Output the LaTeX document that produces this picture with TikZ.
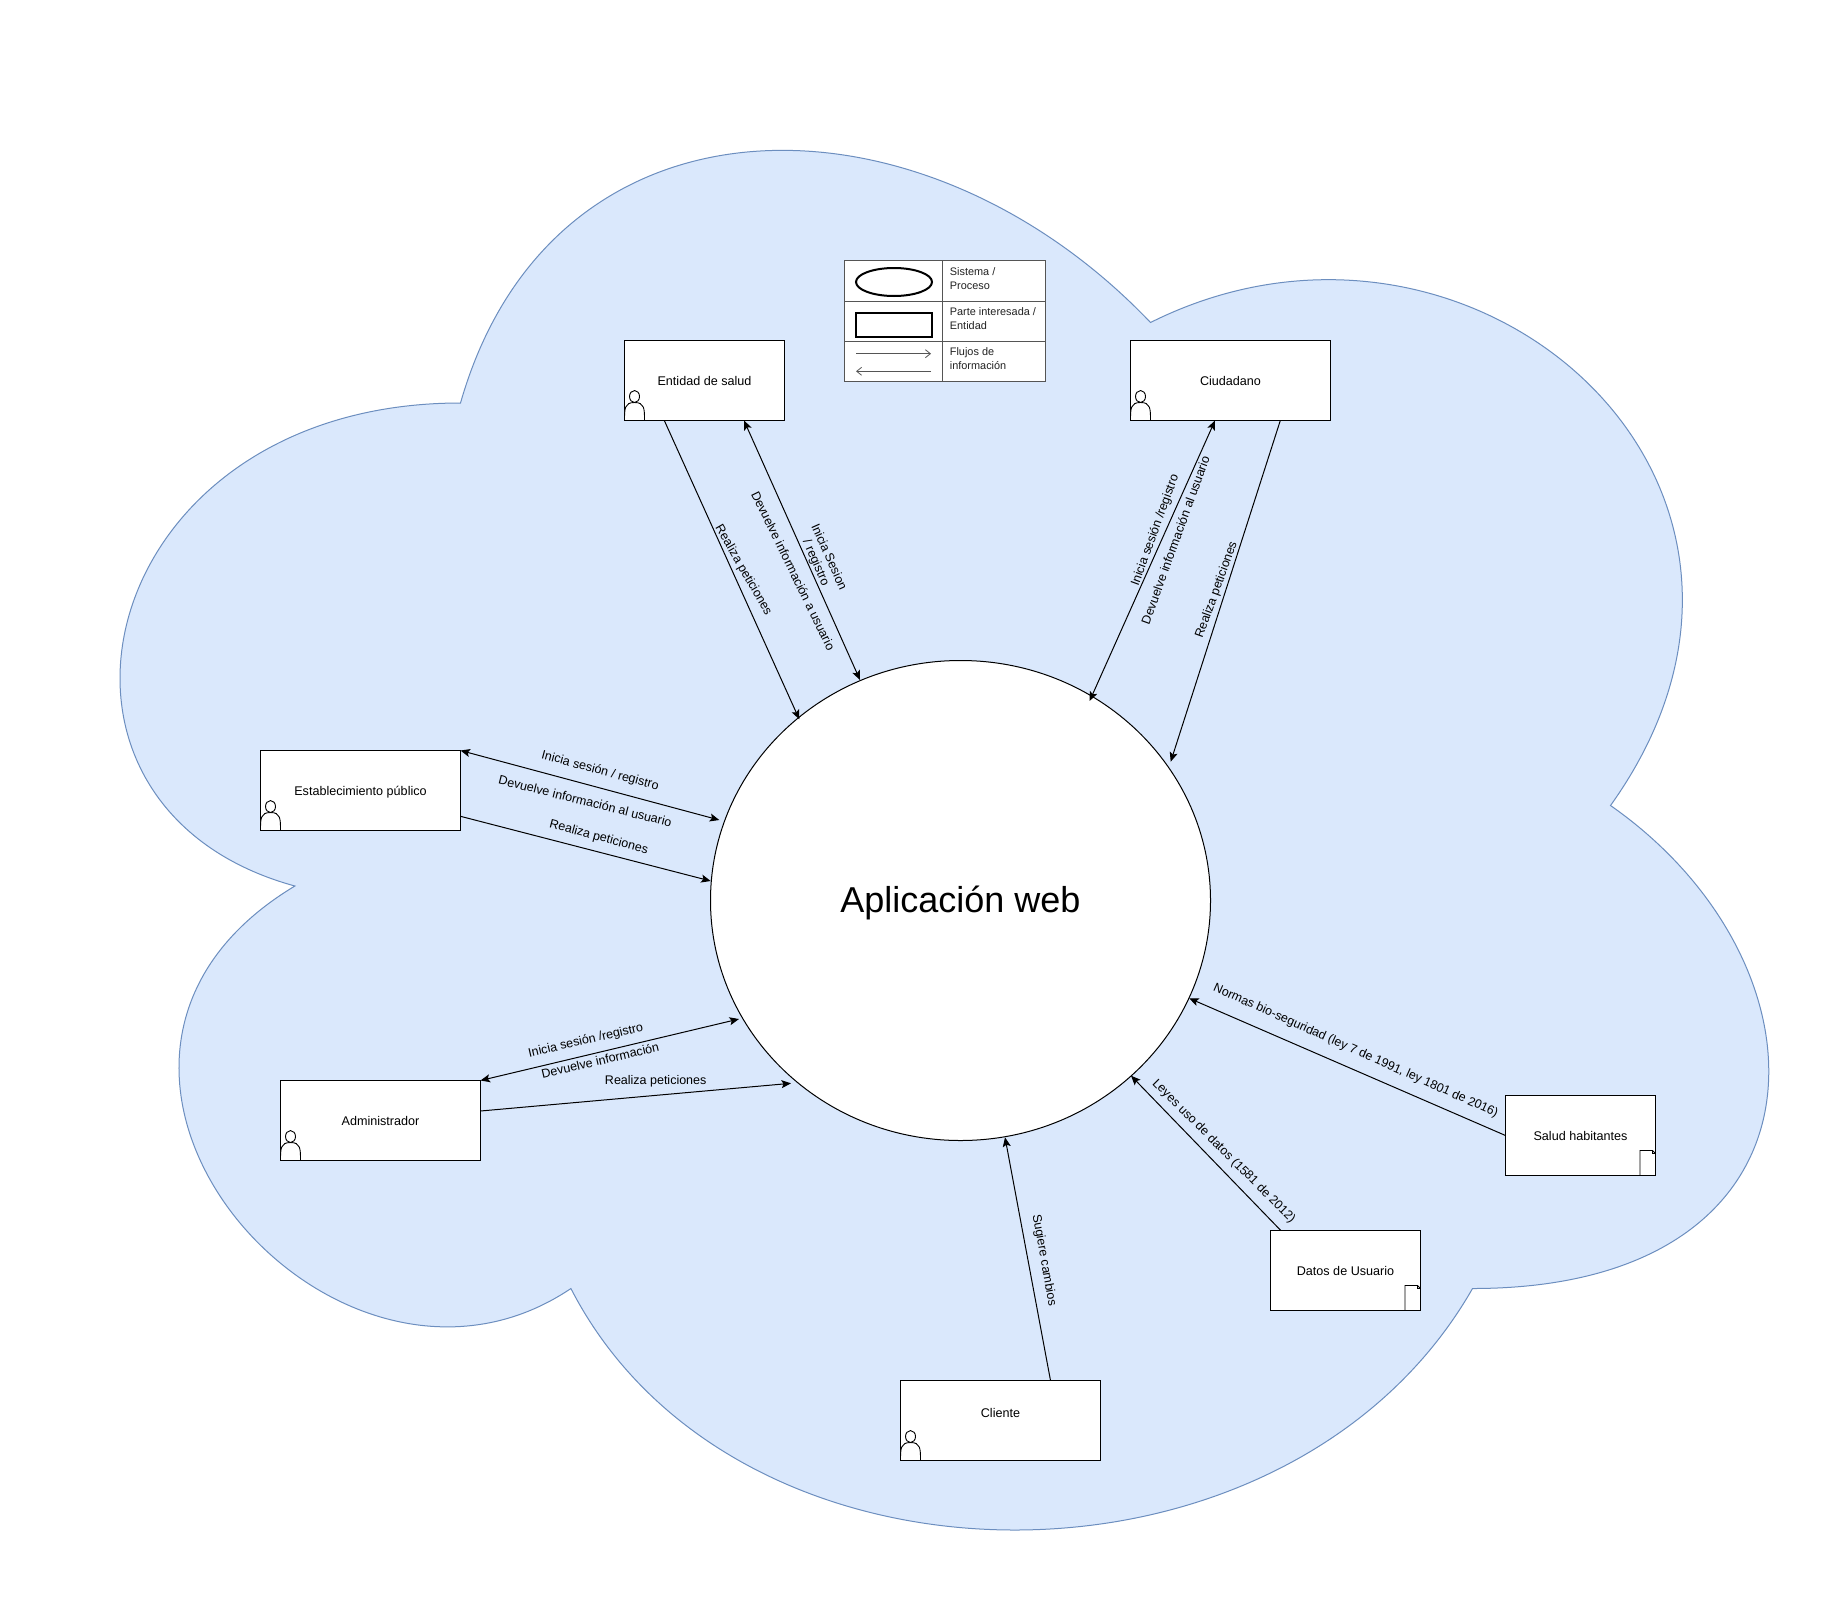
\documentclass[tikz,border=0pt]{standalone}
\usepackage{fontspec}
\setmainfont{Liberation Sans}
\usetikzlibrary{arrows.meta,calc,shapes.geometric}
\tikzset{
  box/.style={draw=black,fill=white,line width=1pt,minimum height=80pt,inner sep=0pt,outer sep=0pt,text height=9.6pt,text depth=0pt,font=\fontsize{12.6}{15}\selectfont},
  flow/.style={draw=black,line width=1pt,-{Stealth[length=9.5pt,width=8pt,inset=2pt]}},
  biflow/.style={draw=black,line width=1pt,{Stealth[length=9.5pt,width=8pt,inset=2pt]}-{Stealth[length=9.5pt,width=8pt,inset=2pt]}},
  lab/.style={inner sep=0pt,font=\fontsize{12.5}{14}\selectfont,align=center},
  legcell/.style={draw=legline,fill=white,line width=1pt,inner sep=0pt,outer sep=0pt,minimum height=40pt},
  legtxt/.style={inner sep=0pt,anchor=west,align=left,text=legtext,font=\fontsize{10.9}{14}\selectfont},
  legarrow/.style={draw=legline,line width=0.8pt},
  person/.pic={
    \draw[black,fill=white,line width=0.9pt] (0,0) .. controls (0,-12) and (0,-18) .. (10,-18) .. controls (20,-18) and (20,-12) .. (20,0) -- cycle;
    \draw[black,fill=white,line width=0.9pt] (10,-24) ellipse [x radius=5, y radius=6];
  },
  noteicon/.pic={
    \draw[black,fill=white,line width=0.9pt] (-15.5,0) -- (-15.5,-25) -- (-3,-25) -- (0,-22) -- (0,0) -- cycle;
    \draw[black,line width=0.7pt] (-3,-25) -- (-3,-22) -- (0,-22);
  }
}
\definecolor{cloudfill}{HTML}{DAE8FC}
\definecolor{cloudline}{HTML}{6C8EBF}
\definecolor{legline}{HTML}{555555}
\definecolor{legtext}{HTML}{222222}
\begin{document}
\begin{tikzpicture}[x=1pt,y=-1pt]
\path[use as bounding box,fill=white] (0,0) rectangle (1841,1611);
% cloud
\draw[fill=cloudfill,draw=cloudline,line width=1pt]
  (460.5,403) .. controls (92.5,403) and (0.5,805.5) .. (294.9,886)
  .. controls (0.5,1063) and (331.7,1449.5) .. (570.9,1288.5)
  .. controls (736.5,1610.5) and (1288.5,1610.5) .. (1472.5,1288.5)
  .. controls (1840.5,1288.5) and (1840.5,966.5) .. (1610.5,805.5)
  .. controls (1840.5,483.5) and (1472.5,161.5) .. (1150.5,322.5)
  .. controls (920.5,81) and (552.5,81) .. (460.5,403) -- cycle;
% legend
\node[legcell,minimum width=98pt,minimum height=40.6pt] (lega) at (893.5,281) {};
\node[legcell,minimum width=103.5pt,minimum height=40.6pt] (legb) at (994,281) {};
\node[legcell,minimum width=98pt] (legc) at (893.5,321.3) {};
\node[legcell,minimum width=103.5pt] (legd) at (994,321.3) {};
\node[legcell,minimum width=98pt] (lege) at (893.5,361.5) {};
\node[legcell,minimum width=103.5pt] (legf) at (994,361.5) {};
\node[draw=black,fill=white,line width=2pt,shape=ellipse,inner sep=0pt,minimum width=76pt,minimum height=28pt] (legell) at (894,282) {};
\node[draw=black,fill=white,line width=2pt,inner sep=0pt,minimum width=76pt,minimum height=24pt] (legrec) at (894,325) {};
\coordinate (la1) at (856,353.7);
\coordinate (la2) at (931,353.7);
\coordinate (lb1) at (931,371.3);
\coordinate (lb2) at (856,371.3);
\draw[legarrow,-{Straight Barb[length=5pt,width=8pt]}] (la1) -- (la2);
\draw[legarrow,-{Straight Barb[length=5pt,width=8pt]}] (lb1) -- (lb2);
\node[legtxt] (legt1) at (949.7,279) {Sistema /\\Proceso};
\node[legtxt] (legt2) at (949.7,318.8) {Parte interesada /\\Entidad};
\node[legtxt] (legt3) at (949.7,358.7) {Flujos de\\información};
% central process
\node[draw=black,fill=white,line width=1pt,shape=ellipse,inner sep=0pt,outer sep=0pt,minimum width=500pt,minimum height=480pt,text height=24pt,text depth=0pt,font=\fontsize{36}{40}\selectfont] (app) at (960.5,900.5) {Aplicación web};
% boxes
\node[box,minimum width=160pt] (ent) at (704.5,380.5) {Entidad de salud};
\node[box,minimum width=200pt] (ciu) at (1230.5,380.5) {Ciudadano};
\node[box,minimum width=200pt] (est) at (360.5,790.5) {Establecimiento público};
\node[box,minimum width=200pt] (adm) at (380.5,1120.5) {Administrador};
\node[box,minimum width=200pt] (cli) at (1000.5,1420.5) {\raisebox{7.8pt}{Cliente}};
\node[box,minimum width=150pt] (sal) at (1580.5,1135.5) {Salud habitantes};
\node[box,minimum width=150pt] (dat) at (1345.5,1270.5) {Datos de Usuario};
% icons
\pic at (ent.south west) {person};
\pic at (ciu.south west) {person};
\pic at (est.south west) {person};
\pic at (adm.south west) {person};
\pic at (cli.south west) {person};
\pic at (sal.south east) {noteicon};
\pic at (dat.south east) {noteicon};
% connectors
\draw[flow] ($(ent.south west)+(39.8,0)$) -- ($(app.center)+(-161.2,-181.2)$);
\draw[biflow] ($(ent.south west)+(119.5,0)$) -- ($(app.center)+(-100.5,-220.5)$);
\draw[biflow] (est.north east) -- ($(app.center)+(-241.2,-80.5)$);
\draw[flow] ($(est.north east)+(0,65.8)$) -- ($(app.center)+(-249.8,-19.5)$);
\draw[biflow] (adm.north east) -- ($(app.center)+(-221.5,118.5)$);
\draw[flow] ($(adm.north east)+(0,30.5)$) -- ($(app.center)+(-169.5,182.8)$);
\draw[biflow] ($(ciu.south west)+(84.5,0)$) -- ($(app.center)+(129.1,-199.5)$);
\draw[flow] ($(ciu.south west)+(149.8,0)$) -- ($(app.center)+(210.2,-138.8)$);
\draw[flow] (sal.west) -- ($(app.center)+(228.7,97.8)$);
\draw[flow] ($(dat.north west)+(10.3,0)$) -- ($(app.center)+(170.5,175.2)$);
\draw[flow] ($(cli.north west)+(150,0)$) -- ($(app.center)+(44.5,236.8)$);
% labels
\node[lab,rotate=-60] (l1) at (743.3,570.3) {Realiza peticiones};
\node[lab,rotate=-64] (l2) at (793.3,570.7) {Devuelve información a usuario};
\node[lab,rotate=-66] (l3) at (822,560) {Inicia Sesion\\/ registro};
\node[lab,rotate=-15] (l4) at (600,771) {Inicia sesión / registro};
\node[lab,rotate=-14] (l5) at (585.3,801) {Devuelve información al usuario};
\node[lab,rotate=-15] (l6) at (598.7,837.5) {Realiza peticiones};
\node[lab,rotate=13] (l7) at (585.8,1040.7) {Inicia sesión /registro};
\node[lab,rotate=13] (l8) at (600.2,1060.3) {Devuelve información};
\node[lab] (l9) at (655.7,1081) {Realiza peticiones};
\node[lab,rotate=70] (l10) at (1155.3,530.3) {Inicia sesión /registro};
\node[lab,rotate=70] (l11) at (1175.3,540) {Devuelve información al usuario};
\node[lab,rotate=70] (l12) at (1216.7,590) {Realiza peticiones};
\node[lab,rotate=-24,font=\fontsize{12.4}{14}\selectfont] (l13) at (1355.6,1051) {Normas bio-seguridad (ley 7 de 1991, ley 1801 de 2016)};
\node[lab,rotate=-45] (l14) at (1223.7,1151.3) {Leyes uso de datos (1581 de 2012)};
\node[lab,rotate=-80] (l15) at (1044,1260.3) {Sugiere cambios};
\end{tikzpicture}
\end{document}
